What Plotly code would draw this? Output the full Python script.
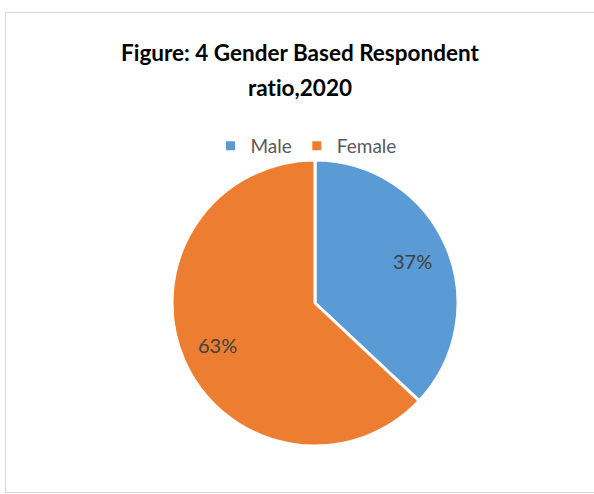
import numpy as np
import plotly.graph_objects as go

# Respondent share by gender, 2020
genders = ["Male", "Female"]
shares = [37, 63]
colors = ["#5B9BD5", "#ED7D31"]

W, H = 594, 494

# pie placement in pixels
cx, cy, r = 315, 303, 143
label_frac = 0.74

fig = go.Figure(
    go.Pie(
        labels=genders,
        values=shares,
        sort=False,
        direction="clockwise",
        rotation=0,
        marker=dict(colors=colors, line=dict(color="white", width=3)),
        textinfo="none",
        domain=dict(x=[(cx - r) / W, (cx + r) / W], y=[1 - (cy + r) / H, 1 - (cy - r) / H]),
        hoverinfo="label+percent",
    )
)

# percentage labels at each slice's mid-angle
vals = np.array(shares, dtype=float)
frac = vals / vals.sum()
mid = (np.cumsum(frac) - frac / 2) * 2 * np.pi  # clockwise from 12 o'clock
annotations = []
for f, a in zip(frac, mid):
    px = cx + label_frac * r * np.sin(a)
    py = cy - label_frac * r * np.cos(a)
    annotations.append(
        dict(
            text=f"{f:.0%}",
            x=px / W,
            y=1 - py / H,
            xref="paper",
            yref="paper",
            xanchor="center",
            yanchor="middle",
            showarrow=False,
            font=dict(family="Lato", size=20, color="#404040"),
        )
    )

# zero-width non-joiner keeps Lato from fusing "ti" into a ligature
title_lines = ["Figure: 4 Gender Based Respondent", "rat\u200cio,2020"]
for line, ty in zip(title_lines, [53, 87]):
    annotations.append(
        dict(
            text=f"<b>{line}</b>",
            x=300 / W,
            y=1 - ty / H,
            xref="paper",
            yref="paper",
            xanchor="center",
            yanchor="middle",
            showarrow=False,
            font=dict(family="Lato", size=22.5, color="#000000"),
        )
    )

fig.update_layout(
    width=W,
    height=H,
    margin=dict(l=0, r=0, t=0, b=0),
    paper_bgcolor="white",
    plot_bgcolor="white",
    showlegend=True,
    legend=dict(
        orientation="h",
        x=306 / W,
        xanchor="center",
        y=1 - 146 / H,
        yanchor="middle",
        font=dict(family="Lato", size=19, color="#595959"),
        itemwidth=30,
        bgcolor="rgba(0,0,0,0)",
    ),
    annotations=annotations,
    shapes=[
        dict(
            type="rect",
            xref="paper",
            yref="paper",
            x0=5.5 / W,
            x1=1.02,
            y0=1 - 492.5 / H,
            y1=1 - 12.5 / H,
            line=dict(color="#D9D9D9", width=1),
            fillcolor="rgba(0,0,0,0)",
            layer="below",
        )
    ],
)

fig.write_html("out.html")
